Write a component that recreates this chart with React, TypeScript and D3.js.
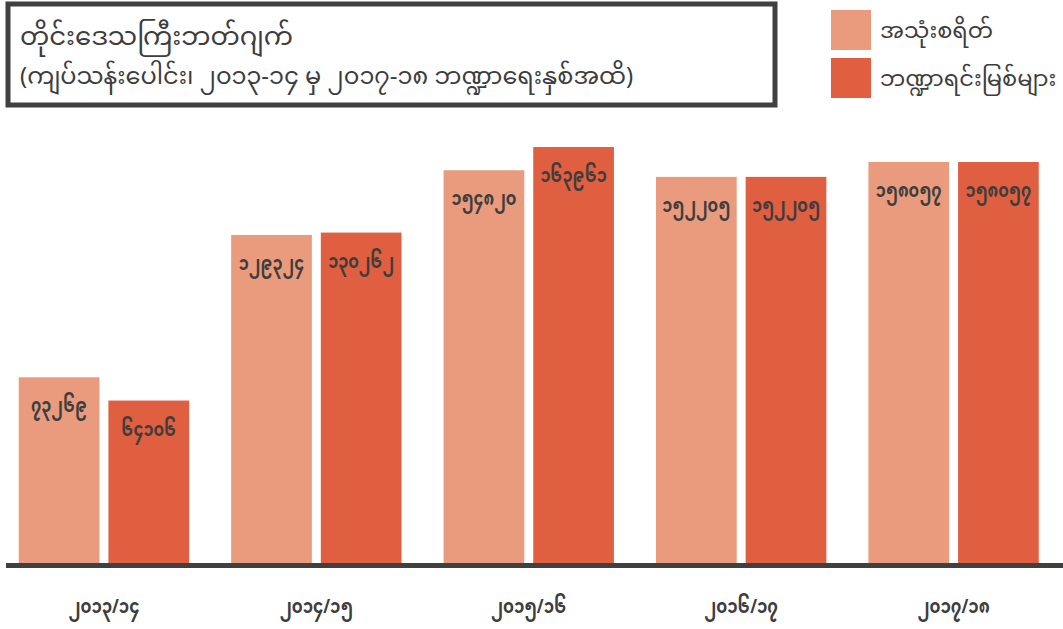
import React from "react";
import * as d3 from "d3";

const years = ["၂၀၁၃/၁၄", "၂၀၁၄/၁၅", "၂၀၁၅/၁၆", "၂၀၁၆/၁၇", "၂၀၁၇/၁၈"];
const seriesNames = ["အသုံးစရိတ်", "ဘဏ္ဍာရင်းမြစ်များ"];
const expenditure = [73269, 129324, 154820, 152205, 158057];
const revenue = [64106, 130262, 163961, 152205, 158057];
const titleLines = [
  "တိုင်းဒေသကြီးဘတ်ဂျက်",
  "(ကျပ်သန်းပေါင်း၊ ၂၀၁၃-၁၄ မှ ၂၀၁၇-၁၈ ဘဏ္ဍာရေးနှစ်အထိ)",
];
const colors = ["#EA9B7D", "#E05F40"];

const W = 1063;
const H = 629;
const FONT = "'Noto Sans Myanmar', 'Padauk', 'Myanmar Text', 'Noto Sans', sans-serif";
const TEXT = "#3d3d3d";

const myDigits = "၀၁၂၃၄၅၆၇၈၉";
const toMy = (n: number) => String(n).replace(/[0-9]/g, (d) => myDigits[+d]);

export default function App() {
  const x0 = d3
    .scaleBand<string>()
    .domain(years)
    .range([-2.5, 1060])
    .paddingInner(0.198)
    .paddingOuter(0.1);
  const x1 = d3
    .scaleBand<number>()
    .domain([0, 1])
    .range([0, x0.bandwidth()])
    .paddingInner(0.1);
  const y = d3.scaleLinear().domain([0, 170000]).range([563.3, 131.7]);
  const series = [expenditure, revenue];

  return (
    <svg
      width={W}
      height={H}
      style={{ position: "absolute", left: 0, top: 0, background: "#fff" }}
      fontFamily={FONT}
    >
      <rect x={0} y={0} width={W} height={H} fill="#fff" />
      {/* title box */}
      <rect x={8} y={4} width={767} height={101} fill="#fff" stroke="#404040" strokeWidth={5} />
      <text x={20} y={45} fontSize={26} fill={TEXT}>
        {titleLines[0]}
      </text>
      <text x={20} y={84} fontSize={24} fill={TEXT}>
        {titleLines[1]}
      </text>
      {/* legend */}
      {seriesNames.map((s, i) => (
        <g key={s} transform={`translate(831, ${10 + i * 48})`}>
          <rect width={40} height={40} fill={colors[i]} />
          <text x={49} y={20} dy="0.35em" fontSize={22.5} fill={TEXT}>
            {s}
          </text>
        </g>
      ))}
      {/* bars */}
      {years.map((yr, gi) => (
        <g key={yr} transform={`translate(${x0(yr)}, 0)`}>
          {series.map((vals, si) => {
            const v = vals[gi];
            const bx = x1(si)!;
            const by = y(v);
            return (
              <g key={si}>
                <rect x={bx} y={by} width={x1.bandwidth()} height={y(0) - by} fill={colors[si]} />
                <text
                  transform={`translate(${bx + x1.bandwidth() / 2}, ${by + 28}) scale(0.84, 1.05)`}
                  dy="0.35em"
                  textAnchor="middle"
                  fontSize={19}
                  fontWeight="bold"
                  fill={TEXT}
                >
                  {toMy(v)}
                </text>
              </g>
            );
          })}
          <text
            transform={`translate(${x0.bandwidth() / 2}, 606) scale(0.87, 1.05)`}
            dy="0.35em"
            textAnchor="middle"
            fontSize={19}
            fontWeight="bold"
            fill={TEXT}
          >
            {yr}
          </text>
        </g>
      ))}
      {/* axis */}
      <line x1={6} x2={W} y1={565.5} y2={565.5} stroke="#404040" strokeWidth={5} />
    </svg>
  );
}
